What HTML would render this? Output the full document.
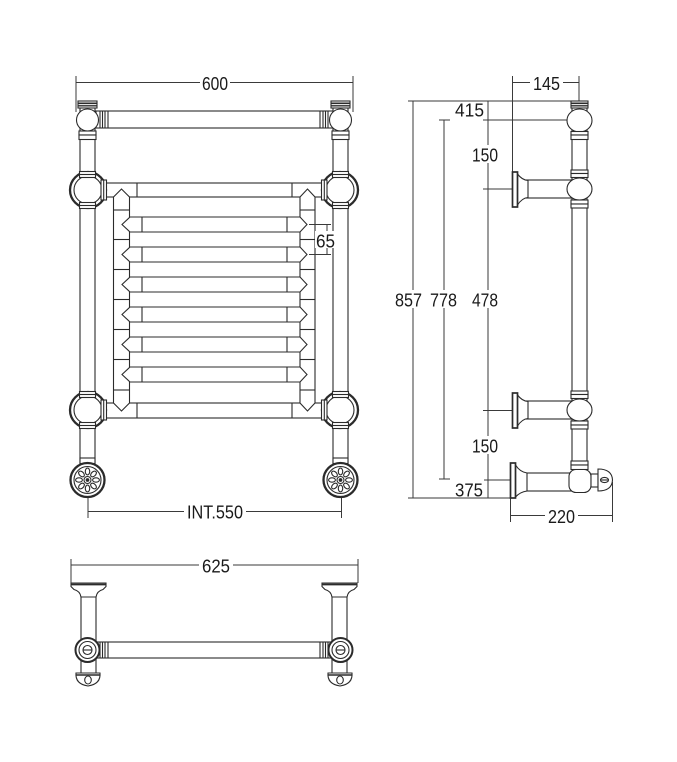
<!DOCTYPE html>
<html><head><meta charset="utf-8"><style>
html,body{margin:0;padding:0;background:#fff;}
svg{display:block;}
text{font-family:"Liberation Sans",Arial,sans-serif;font-size:18px;fill:#1a1a1a;stroke:none;}
</style></head><body>
<svg width="677" height="762" viewBox="0 0 677 762" xmlns="http://www.w3.org/2000/svg" xmlns:xlink="http://www.w3.org/1999/xlink">
<rect x="0" y="0" width="677" height="762" fill="#fff"/>

<!-- ================= FRONT VIEW ================= -->
<g fill="#fff" stroke="#2b2b2b" stroke-width="1.1">
  <!-- top towel rail -->
  <rect x="96" y="111" width="237" height="17"/>
  <line x1="100" y1="111" x2="100" y2="128"/>
  <line x1="102.5" y1="111" x2="102.5" y2="128"/>
  <line x1="105" y1="111" x2="105" y2="128"/>
  <line x1="108" y1="111" x2="108" y2="128"/>
  <line x1="320" y1="111" x2="320" y2="128"/>
  <line x1="323" y1="111" x2="323" y2="128"/>
  <line x1="325.5" y1="111" x2="325.5" y2="128"/>
  <line x1="328" y1="111" x2="328" y2="128"/>

  <!-- ladder rails -->
  <rect x="104" y="183" width="220" height="14"/>
  <line x1="137" y1="183" x2="137" y2="197"/>
  <line x1="292" y1="183" x2="292" y2="197"/>
  <rect x="104" y="403" width="220" height="15"/>
  <line x1="137" y1="403" x2="137" y2="418"/>
  <line x1="292" y1="403" x2="292" y2="418"/>

  <!-- headers -->
  <path d="M113.5 197 L121.5 189 L129.5 197 V403 L121.5 411 L113.5 403 Z"/>
  <path d="M300 197 L307.5 189 L315 197 V403 L307.5 411 L300 403 Z"/>
  <g>
    <line x1="113.5" y1="210" x2="129.5" y2="210"/>
    <line x1="113.5" y1="239.5" x2="129.5" y2="239.5"/>
    <line x1="113.5" y1="269.5" x2="129.5" y2="269.5"/>
    <line x1="113.5" y1="299.5" x2="129.5" y2="299.5"/>
    <line x1="113.5" y1="329.5" x2="129.5" y2="329.5"/>
    <line x1="113.5" y1="359.5" x2="129.5" y2="359.5"/>
    <line x1="113.5" y1="390" x2="129.5" y2="390"/>
    <line x1="300" y1="210" x2="315" y2="210"/>
    <line x1="300" y1="239.5" x2="315" y2="239.5"/>
    <line x1="300" y1="269.5" x2="315" y2="269.5"/>
    <line x1="300" y1="299.5" x2="315" y2="299.5"/>
    <line x1="300" y1="329.5" x2="315" y2="329.5"/>
    <line x1="300" y1="359.5" x2="315" y2="359.5"/>
    <line x1="300" y1="390" x2="315" y2="390"/>
  </g>

  <!-- bars -->
  <g id="bar">
    <polygon points="130,217 300,217 307,224.5 300,232 130,232 122,224.5"/>
    <line x1="142" y1="217" x2="142" y2="232"/>
    <line x1="287" y1="217" x2="287" y2="232"/>
  </g>
  <use xlink:href="#bar" href="#bar" transform="translate(0,30)"/>
  <use xlink:href="#bar" href="#bar" transform="translate(0,60)"/>
  <use xlink:href="#bar" href="#bar" transform="translate(0,90)"/>
  <use xlink:href="#bar" href="#bar" transform="translate(0,120)"/>
  <use xlink:href="#bar" href="#bar" transform="translate(0,150)"/>

  <!-- left column -->
  <g id="colL">
    <rect x="80" y="106" width="15" height="358"/>
    <!-- top cap -->
    <rect x="78" y="101" width="19" height="7"/>
    <line x1="78" y1="103.3" x2="97" y2="103.3" stroke-width="1.6"/>
    <line x1="78" y1="105.8" x2="97" y2="105.8" stroke-width="1.3"/>
    <!-- ball -->
    <ellipse cx="87.5" cy="120" rx="11" ry="11"/>
    <rect x="79" y="131" width="17" height="4"/>
    <rect x="79" y="135" width="17" height="4.5"/>
    <!-- upper knuckle -->
    <circle cx="88" cy="190" r="18" stroke-width="2.3"/>
    <circle cx="88" cy="190" r="14"/>
    <rect x="79.5" y="171.5" width="16" height="6"/>
    <line x1="79.5" y1="174.5" x2="95.5" y2="174.5"/>
    <rect x="79.5" y="202.5" width="16" height="6"/>
    <line x1="79.5" y1="205.5" x2="95.5" y2="205.5"/>
    <rect x="101" y="180" width="5.5" height="20"/>
    <line x1="103.7" y1="180" x2="103.7" y2="200"/>
    <!-- lower knuckle -->
    <circle cx="88" cy="410" r="18" stroke-width="2.3"/>
    <circle cx="88" cy="410" r="14"/>
    <rect x="79.5" y="391.5" width="16" height="6"/>
    <line x1="79.5" y1="394.5" x2="95.5" y2="394.5"/>
    <rect x="79.5" y="422.5" width="16" height="6"/>
    <line x1="79.5" y1="425.5" x2="95.5" y2="425.5"/>
    <rect x="101" y="400" width="5.5" height="20"/>
    <line x1="103.7" y1="400" x2="103.7" y2="420"/>
    <!-- ring above valve -->
    <rect x="80" y="458" width="15" height="5.5"/>
    <!-- valve -->
    <circle cx="87.5" cy="480" r="17" stroke-width="2.3"/>
    <circle cx="87.5" cy="480" r="13.5"/>
    <g>
      <ellipse cx="87.5" cy="471.5" rx="2.2" ry="3.4"/>
      <ellipse cx="87.5" cy="471.5" rx="2.2" ry="3.4" transform="rotate(45 87.5 480)"/>
      <ellipse cx="87.5" cy="471.5" rx="2.2" ry="3.4" transform="rotate(90 87.5 480)"/>
      <ellipse cx="87.5" cy="471.5" rx="2.2" ry="3.4" transform="rotate(135 87.5 480)"/>
      <ellipse cx="87.5" cy="471.5" rx="2.2" ry="3.4" transform="rotate(180 87.5 480)"/>
      <ellipse cx="87.5" cy="471.5" rx="2.2" ry="3.4" transform="rotate(225 87.5 480)"/>
      <ellipse cx="87.5" cy="471.5" rx="2.2" ry="3.4" transform="rotate(270 87.5 480)"/>
      <ellipse cx="87.5" cy="471.5" rx="2.2" ry="3.4" transform="rotate(315 87.5 480)"/>
    </g>
    <circle cx="87.5" cy="480" r="3.5"/>
    <circle cx="87.5" cy="480" r="1.3" fill="#2b2b2b"/>
  </g>
  <use xlink:href="#colL" href="#colL" transform="translate(428,0) scale(-1,1)"/>
</g>

<!-- front view dimensions -->
<g stroke="#3a3a3a" stroke-width="1" fill="none">
  <line x1="76" y1="82.5" x2="353" y2="82.5"/>
  <line x1="76" y1="76" x2="76" y2="112"/>
  <line x1="353" y1="76" x2="353" y2="112"/>
  <line x1="88" y1="511.5" x2="341.5" y2="511.5"/>
  <line x1="88" y1="498" x2="88" y2="518"/>
  <line x1="341.5" y1="498" x2="341.5" y2="518"/>
  <line x1="309" y1="224.5" x2="331" y2="224.5"/>
  <line x1="309" y1="254.5" x2="331" y2="254.5"/>
  <line x1="327" y1="224.5" x2="327" y2="254.5"/>
</g>
<rect x="200" y="74" width="30" height="17" fill="#fff"/>
<text x="215" y="90" text-anchor="middle" textLength="26" lengthAdjust="spacingAndGlyphs">600</text>
<rect x="184" y="503" width="62" height="17" fill="#fff"/>
<text x="215" y="518.5" text-anchor="middle" textLength="56" lengthAdjust="spacingAndGlyphs">INT.550</text>
<rect x="315" y="231" width="21" height="17" fill="#fff"/>
<text x="325.5" y="247.5" text-anchor="middle" textLength="19" lengthAdjust="spacingAndGlyphs">65</text>

<!-- ================= SIDE VIEW ================= -->
<g stroke="#3a3a3a" stroke-width="1" fill="none">
  <!-- 145 -->
  <line x1="513" y1="82.5" x2="579" y2="82.5"/>
  <line x1="512.5" y1="76" x2="512.5" y2="172"/>
  <line x1="579" y1="76" x2="579" y2="101"/>
  <!-- top & bottom extension -->
  <line x1="408" y1="101" x2="572" y2="101"/>
  <line x1="408" y1="498" x2="511" y2="498"/>
  <!-- 857 -->
  <line x1="413" y1="101" x2="413" y2="498"/>
  <!-- 778 -->
  <line x1="444" y1="120" x2="444" y2="479"/>
  <line x1="439" y1="120" x2="450" y2="120"/>
  <line x1="439" y1="479" x2="450" y2="479"/>
  <!-- 478 -->
  <line x1="488" y1="101" x2="488" y2="498"/>
  <line x1="483" y1="120" x2="568" y2="120"/>
  <line x1="483" y1="189" x2="512" y2="189"/>
  <line x1="483" y1="410.5" x2="512" y2="410.5"/>
  <line x1="484" y1="480" x2="510" y2="480"/>
  <!-- 220 -->
  <line x1="510.5" y1="515.5" x2="612.5" y2="515.5"/>
  <line x1="510.5" y1="498" x2="510.5" y2="522"/>
  <line x1="612.5" y1="482" x2="612.5" y2="522"/>
</g>

<g fill="#fff" stroke="#2b2b2b" stroke-width="1.1">
  <!-- vertical pipe -->
  <rect x="572" y="105" width="15" height="360"/>
  <!-- top cap -->
  <rect x="571" y="101" width="17" height="7"/>
  <line x1="571" y1="103.3" x2="588" y2="103.3" stroke-width="1.6"/>
  <line x1="571" y1="105.8" x2="588" y2="105.8" stroke-width="1.3"/>
  <ellipse cx="579.5" cy="120.5" rx="12.5" ry="11.5"/>
  <rect x="571" y="131.5" width="17" height="3.5"/>
  <rect x="571" y="135" width="17" height="4.5"/>

  <!-- bracket -->
  <g id="brk">
    <rect x="526" y="180" width="46" height="18"/>
    <path d="M517.5 174 Q522 180 528 180.5 V197.5 Q522 198 517.5 205 Z"/>
    <rect x="512.5" y="172" width="5" height="35" stroke-width="1.7"/>
    <rect x="571" y="170" width="17" height="3.5"/>
    <rect x="571" y="173.5" width="17" height="4"/>
    <ellipse cx="579.5" cy="189" rx="12.5" ry="11"/>
    <rect x="571" y="200" width="17" height="4"/>
    <rect x="571" y="204" width="17" height="4"/>
  </g>
  <use xlink:href="#brk" href="#brk" transform="translate(0,221)"/>

  <!-- bottom elbow + inlet -->
  <rect x="571" y="461" width="17" height="4"/>
  <rect x="571" y="465" width="17" height="4.5"/>
  <rect x="525" y="473" width="48" height="18"/>
  <path d="M515.5 465 Q520 472 527 473 V491 Q520 492 515.5 497 Z"/>
  <rect x="510.5" y="463" width="5" height="35" stroke-width="1.7"/>
  <rect x="569" y="469.5" width="22" height="23" rx="7"/>
  <rect x="591" y="474" width="7" height="13"/>
  <path d="M598 469 Q612 469 612.5 480 Q612 491 598 491 Z"/>
  <ellipse cx="604.5" cy="480" rx="4" ry="2.6"/>
  <line x1="601" y1="480" x2="608" y2="480"/>
</g>

<rect x="530" y="74" width="33" height="17" fill="#fff"/>
<text x="546.5" y="90" text-anchor="middle" textLength="27" lengthAdjust="spacingAndGlyphs">145</text>
<text x="469.5" y="116.5" text-anchor="middle" textLength="29" lengthAdjust="spacingAndGlyphs">415</text>
<rect x="470" y="145" width="30" height="18" fill="#fff"/>
<text x="485" y="161.5" text-anchor="middle" textLength="26" lengthAdjust="spacingAndGlyphs">150</text>
<rect x="393" y="290" width="31" height="18" fill="#fff"/>
<text x="408.5" y="306.5" text-anchor="middle" textLength="27" lengthAdjust="spacingAndGlyphs">857</text>
<rect x="428" y="290" width="31" height="18" fill="#fff"/>
<text x="443.5" y="306.5" text-anchor="middle" textLength="27" lengthAdjust="spacingAndGlyphs">778</text>
<rect x="470" y="290" width="30" height="18" fill="#fff"/>
<text x="485" y="306.5" text-anchor="middle" textLength="26" lengthAdjust="spacingAndGlyphs">478</text>
<rect x="470" y="436" width="30" height="18" fill="#fff"/>
<text x="485" y="452.5" text-anchor="middle" textLength="26" lengthAdjust="spacingAndGlyphs">150</text>
<text x="469" y="496.5" text-anchor="middle" textLength="28" lengthAdjust="spacingAndGlyphs">375</text>
<rect x="545" y="507" width="33" height="17" fill="#fff"/>
<text x="561.5" y="523" text-anchor="middle" textLength="27" lengthAdjust="spacingAndGlyphs">220</text>

<!-- ================= BOTTOM VIEW ================= -->
<g stroke="#3a3a3a" stroke-width="1" fill="none">
  <line x1="71" y1="565" x2="358" y2="565"/>
  <line x1="71" y1="559" x2="71" y2="583"/>
  <line x1="358" y1="559" x2="358" y2="583"/>
</g>
<rect x="199" y="556" width="34" height="18" fill="#fff"/>
<text x="216" y="572.5" text-anchor="middle" textLength="28" lengthAdjust="spacingAndGlyphs">625</text>

<g fill="#fff" stroke="#2b2b2b" stroke-width="1.1">
  <rect x="96" y="642" width="241" height="16"/>
  <line x1="100" y1="642" x2="100" y2="658"/>
  <line x1="102.5" y1="642" x2="102.5" y2="658"/>
  <line x1="105" y1="642" x2="105" y2="658"/>
  <line x1="108" y1="642" x2="108" y2="658"/>
  <line x1="320" y1="642" x2="320" y2="658"/>
  <line x1="323" y1="642" x2="323" y2="658"/>
  <line x1="325.5" y1="642" x2="325.5" y2="658"/>
  <line x1="328" y1="642" x2="328" y2="658"/>
  <g id="botL">
    <rect x="81" y="596" width="15" height="78"/>
    <path d="M71 583 H106 V586.5 L103 589.5 Q97 591 96 597 H81 Q80 591 74 589.5 L71 586.5 Z"/>
    <line x1="71" y1="584.5" x2="106" y2="584.5" stroke-width="1.8"/>
    <circle cx="87.5" cy="650" r="12" stroke-width="2"/>
    <circle cx="87.5" cy="650" r="8.5"/>
    <circle cx="87.5" cy="650" r="4.5"/>
    <line x1="83" y1="650" x2="92" y2="650"/>
    <path d="M76 673 H100 Q101 684 88 686 Q75 684 76 673 Z"/>
    <line x1="76" y1="675" x2="100" y2="675" stroke-width="1.6"/>
    <ellipse cx="88" cy="680" rx="3.3" ry="4"/>
  </g>
  <use xlink:href="#botL" href="#botL" transform="translate(428,0) scale(-1,1)"/>
</g>
</svg>
</body></html>
